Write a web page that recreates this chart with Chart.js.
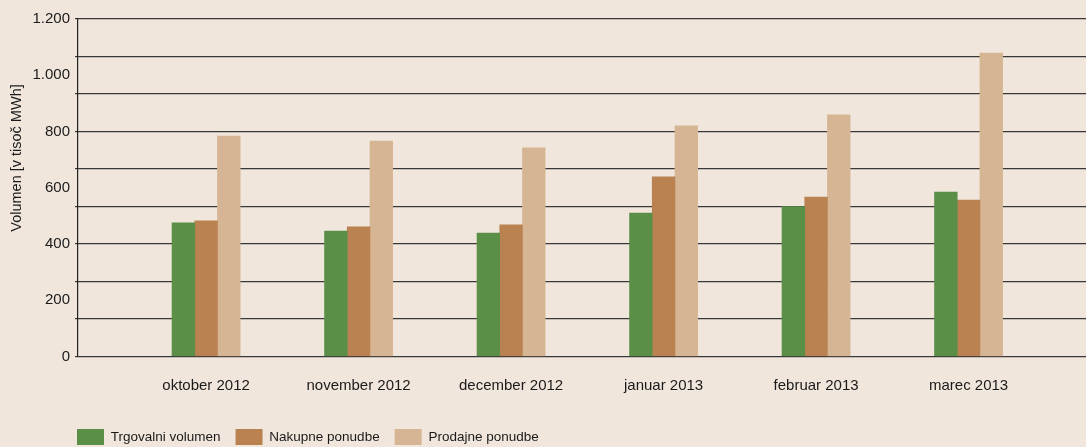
<!DOCTYPE html>
<html><head><meta charset="utf-8">
<script src="https://cdn.jsdelivr.net/npm/chart.js@4.4.1/dist/chart.umd.min.js"></script>
<style>
html,body{margin:0;padding:0;background:#f0e6dc;overflow:hidden;}
#wrap{width:1086px;height:447px;position:relative;}
</style>
</head><body>
<div id="wrap"><canvas id="c" width="1086" height="447"></canvas></div>
<script>
// ---- data ----
const categories = ['oktober 2012', 'november 2012', 'december 2012', 'januar 2013', 'februar 2013', 'marec 2013'];
const trgovalniVolumen = [475, 446, 439, 510, 533, 585];
const nakupnePonudbe   = [482, 461, 468, 639, 567, 556];
const prodajnePonudbe  = [784, 766, 742, 820, 859, 1079];
const seriesNames = ['Trgovalni volumen', 'Nakupne ponudbe', 'Prodajne ponudbe'];
const yTickLabels = [0, 200, 400, 600, 800, 1000, 1200];
const yMax = 1200;
const gridLineCount = 9;
const yTitle = 'Volumen [v tisoč MWh]';

const colors = ['#5b8f47', '#b98250', '#d6b594'];
const FONT = "'Liberation Sans', Arial, sans-serif";
const toPoints = arr => arr.map((v, i) => ({ x: i, y: v }));
const fmt = v => String(v).replace(/\B(?=(\d{3})+(?!\d))/g, '.');

const legendPlacer = {
  id: 'legendPlacer',
  beforeDraw(chart) {
    if (chart.legend) { chart.legend.left = 62; chart.legend.top = 414; }
  }
};

const axisTitle = {
  id: 'axisTitle',
  afterDraw(chart) {
    const ctx = chart.ctx;
    ctx.save();
    ctx.translate(17, 158);
    ctx.rotate(-Math.PI / 2);
    ctx.font = '14.5px ' + FONT;
    ctx.fillStyle = '#1a1a1a';
    ctx.textAlign = 'center';
    ctx.textBaseline = 'middle';
    ctx.fillText(yTitle, 0, 0);
    ctx.restore();
  }
};

new Chart(document.getElementById('c'), {
  type: 'bar',
  data: {
    datasets: [
      { label: seriesNames[0], data: toPoints(trgovalniVolumen), backgroundColor: colors[0] },
      { label: seriesNames[1], data: toPoints(nakupnePonudbe), backgroundColor: colors[1] },
      { label: seriesNames[2], data: toPoints(prodajnePonudbe), backgroundColor: colors[2] }
    ]
  },
  options: {
    responsive: false,
    animation: false,
    devicePixelRatio: 1,
    barThickness: 22.7,
    layout: { padding: { top: 19, right: 0, bottom: 0, left: 0 } },
    plugins: {
      tooltip: { enabled: false },
      legend: {
        position: 'bottom',
        align: 'start',
        labels: {
          boxWidth: 27, boxHeight: 16, padding: 15,
          color: '#1a1a1a',
          font: { family: FONT, size: 13.5 }
        }
      }
    },
    scales: {
      x: {
        type: 'linear',
        offset: false,
        min: -0.84, max: 5.77,
        grid: { display: false, drawTicks: false, offset: false },
        border: { display: false },
        afterBuildTicks: s => { s.ticks = categories.map((_, i) => ({ value: i })); },
        afterFit: s => { s.height = 49.5; },
        ticks: {
          autoSkip: false, maxRotation: 0, padding: 20,
          color: '#1a1a1a',
          font: { family: FONT, size: 15 },
          callback: v => categories[v] ?? ''
        }
      },
      yGrid: {
        type: 'linear', position: 'left', weight: 0,
        min: 0, max: yMax,
        afterBuildTicks: s => {
          const t = [];
          for (let i = 0; i <= gridLineCount; i++) t.push({ value: i * yMax / gridLineCount });
          s.ticks = t;
        },
        afterFit: s => { s.width = 0; },
        ticks: { display: false },
        border: { display: false },
        grid: { color: '#383838', lineWidth: 1.2, drawTicks: true, tickLength: 3 }
      },
      y: {
        type: 'linear', position: 'left', weight: 1,
        min: 0, max: yMax,
        afterBuildTicks: s => { s.ticks = yTickLabels.map(v => ({ value: v })); },
        afterFit: s => { s.width = 78; },
        grid: { display: false, drawTicks: false },
        border: { display: true, color: '#222', width: 1.2 },
        ticks: {
          padding: 8,
          color: '#1a1a1a',
          font: { family: FONT, size: 15 },
          callback: v => fmt(v)
        }
      }
    }
  },
  plugins: [legendPlacer, axisTitle]
});
</script>
</body></html>
